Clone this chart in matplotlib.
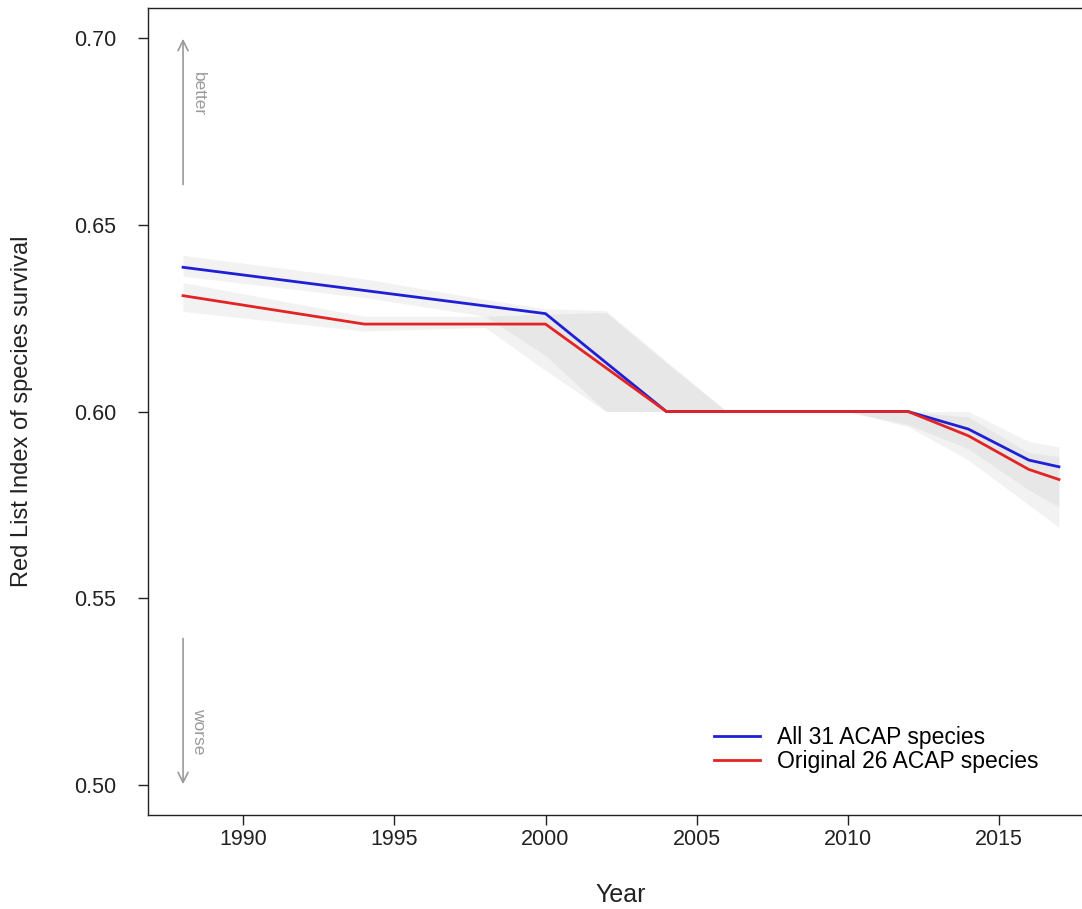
import matplotlib.pyplot as plt
import numpy as np

plt.rcParams["font.family"] = ["Liberation Sans", "DejaVu Sans"]

# Red List Index lines
years_all = [1988, 2000, 2004, 2012, 2014, 2016, 2017]
rli_all = [0.6386, 0.6262, 0.600, 0.600, 0.5953, 0.5870, 0.5852]

years_orig = [1988, 1994, 2000, 2004, 2012, 2014, 2016, 2017]
rli_orig = [0.6310, 0.6234, 0.6234, 0.600, 0.600, 0.5935, 0.5845, 0.5818]

# confidence bands
band_years = [1988, 1994, 1998, 2000, 2002, 2004, 2006, 2010, 2012, 2014, 2016, 2017]
all_lower = [0.6362, 0.6305, 0.6255, 0.6150, 0.600, 0.600, 0.600, 0.600, 0.5965, 0.5900, 0.5790, 0.5745]
all_upper = [0.6418, 0.6355, 0.6300, 0.6275, 0.6270, 0.6135, 0.600, 0.600, 0.600, 0.600, 0.5920, 0.5905]
orig_lower = [0.6268, 0.6215, 0.6225, 0.6110, 0.600, 0.600, 0.600, 0.600, 0.5960, 0.5870, 0.5750, 0.5690]
orig_upper = [0.6345, 0.6255, 0.6255, 0.6260, 0.6265, 0.6130, 0.600, 0.600, 0.600, 0.5985, 0.5890, 0.5880]

fig = plt.figure(figsize=(10.82, 9.09), dpi=100)
ax = fig.add_axes([0.1368, 0.1034, 0.8743, 0.8878])

ax.fill_between(band_years, all_lower, all_upper, color="#aaaaaa", alpha=0.15, lw=0)
ax.fill_between(band_years, orig_lower, orig_upper, color="#aaaaaa", alpha=0.15, lw=0)

ax.plot(years_all, rli_all, color="#1f1fd6", lw=2, label="All 31 ACAP species")
ax.plot(years_orig, rli_orig, color="#e22424", lw=2, label="Original 26 ACAP species")

# better / worse arrows
arrow_col = "#9a9a9a"
ax.annotate("", xy=(1988, 0.7005), xytext=(1988, 0.660),
            arrowprops=dict(arrowstyle="->", color=arrow_col, lw=1.2,
                            mutation_scale=18))
ax.text(1988.5, 0.685, "better", rotation=270, color=arrow_col, fontsize=12.5,
        ha="center", va="center")
ax.annotate("", xy=(1988, 0.4995), xytext=(1988, 0.540),
            arrowprops=dict(arrowstyle="->", color=arrow_col, lw=1.2,
                            mutation_scale=18))
ax.text(1988.5, 0.5145, "worse", rotation=270, color=arrow_col, fontsize=12.5,
        ha="center", va="center")

ax.set_xlim(1986.84, 2018.16)
ax.set_ylim(0.492, 0.708)
ax.set_xticks([1990, 1995, 2000, 2005, 2010, 2015])
ax.set_yticks([0.50, 0.55, 0.60, 0.65, 0.70])
ax.set_yticklabels(["0.50", "0.55", "0.60", "0.65", "0.70"])
ax.tick_params(axis="both", direction="out", length=7, width=1, labelsize=15.5,
               colors="#222222")
ax.tick_params(axis="y", pad=16)
ax.tick_params(axis="x", pad=3)
for sp in ax.spines.values():
    sp.set_color("#222222")
    sp.set_linewidth(1)

ax.set_xlabel("Year", fontsize=18, color="#222222")
ax.xaxis.set_label_coords(0.5, -0.084)
ax.set_ylabel("Red List Index of species survival", fontsize=17, color="#222222")
ax.yaxis.set_label_coords(-0.122, 0.5)

fig.legend(loc="upper left", bbox_to_anchor=(0.66, 0.2013), frameon=False,
           fontsize=16.5, handlelength=2.0, handletextpad=0.75, labelspacing=0.05,
           borderpad=0, borderaxespad=0)

fig.savefig("out.png", dpi=100)
